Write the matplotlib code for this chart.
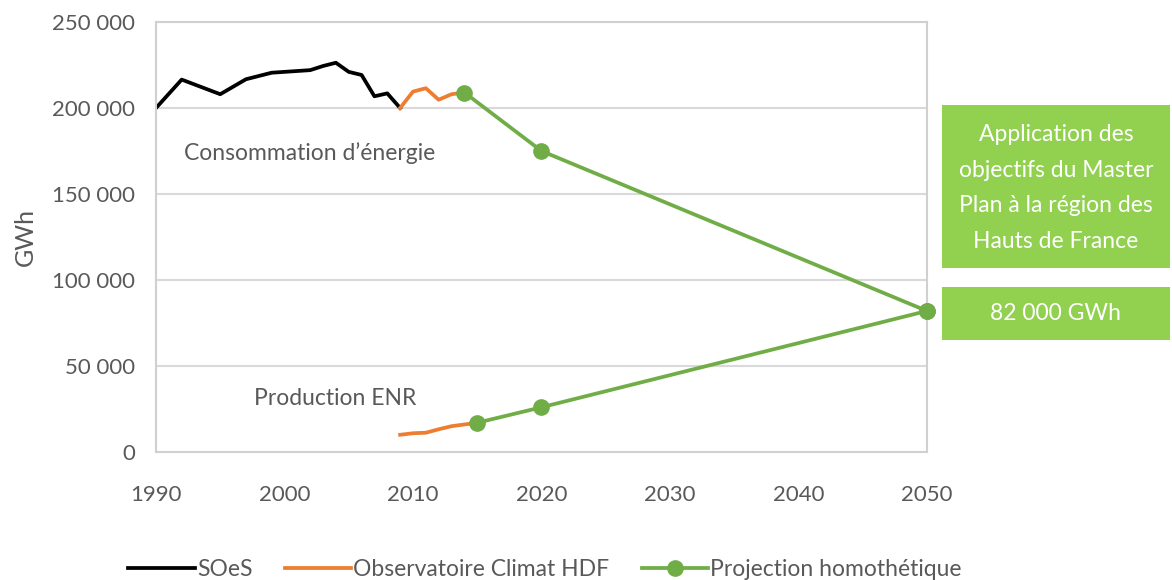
import matplotlib.pyplot as plt
from matplotlib.patches import Rectangle
from matplotlib.ticker import FuncFormatter

plt.rcParams['font.family'] = ['Lato', 'DejaVu Sans']

# consommation d'energie
soes_years = [1990, 1992, 1995, 1997, 1999, 2000, 2002, 2003, 2004, 2005, 2006, 2007, 2008, 2009]
soes_vals = [200000, 216500, 208000, 216700, 220500, 221000, 222000, 224400, 226300, 221000, 219200, 206800, 208500, 200000]

obs_years = [2009, 2010, 2011, 2012, 2013, 2014]
obs_vals = [200000, 209500, 211500, 204800, 208000, 209000]

proj_cons_years = [2014, 2020, 2050]
proj_cons_vals = [209000, 175000, 82000]

# production ENR
obs_enr_years = [2009, 2010, 2011, 2012, 2013, 2014, 2015]
obs_enr_vals = [10000, 10900, 11200, 13200, 15000, 16000, 17000]

proj_enr_years = [2015, 2020, 2050]
proj_enr_vals = [17000, 26000, 82000]

grey = '#595959'
black = '#000000'
orange = '#ed7d31'
green = '#70ad47'
box_green = '#92d050'

fig = plt.figure(figsize=(11.72, 5.8), dpi=100)
ax = fig.add_axes([0.1331, 0.2207, 0.6578, 0.7414])

lw = 2.7
ax.plot(soes_years, soes_vals, color=black, lw=lw, label='SOeS', solid_joinstyle='round')
ax.plot(obs_years, obs_vals, color=orange, lw=lw, label='Observatoire Climat HDF', solid_joinstyle='round')
ax.plot(proj_cons_years, proj_cons_vals, color=green, lw=lw, marker='o', ms=11,
        label='Projection homothétique', clip_on=False, zorder=5)
ax.plot(obs_enr_years, obs_enr_vals, color=orange, lw=lw, solid_joinstyle='round')
ax.plot(proj_enr_years, proj_enr_vals, color=green, lw=lw, marker='o', ms=11, clip_on=False, zorder=5)

ax.set_xlim(1990, 2050)
ax.set_ylim(0, 250000)
ax.set_xticks(range(1990, 2051, 10))
ax.set_yticks(range(0, 250001, 50000))
ax.yaxis.set_major_formatter(FuncFormatter(lambda v, p: f'{int(v):,}'.replace(',', ' ')))
ax.tick_params(length=0, labelsize=16, colors=grey)
ax.tick_params(axis='y', pad=15)
ax.tick_params(axis='x', pad=24)
ax.grid(axis='y', color='#d9d9d9', lw=1.5)
ax.set_axisbelow(True)
for s in ax.spines.values():
    s.set_color('#d0d0d0')
    s.set_linewidth(1.5)
ax.set_ylabel('GWh', fontsize=18, color=grey, labelpad=11)

ax.text(1992.2, 174000, 'Consommation d’énergie', fontsize=16.5, color=grey, va='center')
ax.text(1997.6, 31000, 'Production ENR', fontsize=16.5, color=grey, va='center')

# encadres verts
fig.patches.append(Rectangle((942 / 1172, 1 - 268 / 580), 228 / 1172, 163 / 580,
                             transform=fig.transFigure, facecolor=box_green, edgecolor='none'))
fig.patches.append(Rectangle((942 / 1172, 1 - 340 / 580), 228 / 1172, 53 / 580,
                             transform=fig.transFigure, facecolor=box_green, edgecolor='none'))
fig.text(1056 / 1172, 1 - 188 / 580, 'Application des\nobjectifs du Master\nPlan à la région des\nHauts de France',
         ha='center', va='center', color='white', fontsize=16.5, linespacing=1.85)
fig.text(1056 / 1172, 1 - 313 / 580, '82 000 GWh', ha='center', va='center', color='white', fontsize=16.5)

fig.legend(loc='lower center', bbox_to_anchor=(0.465, -0.035), ncol=3, frameon=False, fontsize=16.5,
           handlelength=2.9, handletextpad=0.1, columnspacing=1.4, labelcolor=grey)

fig.savefig('out.png', dpi=100)
